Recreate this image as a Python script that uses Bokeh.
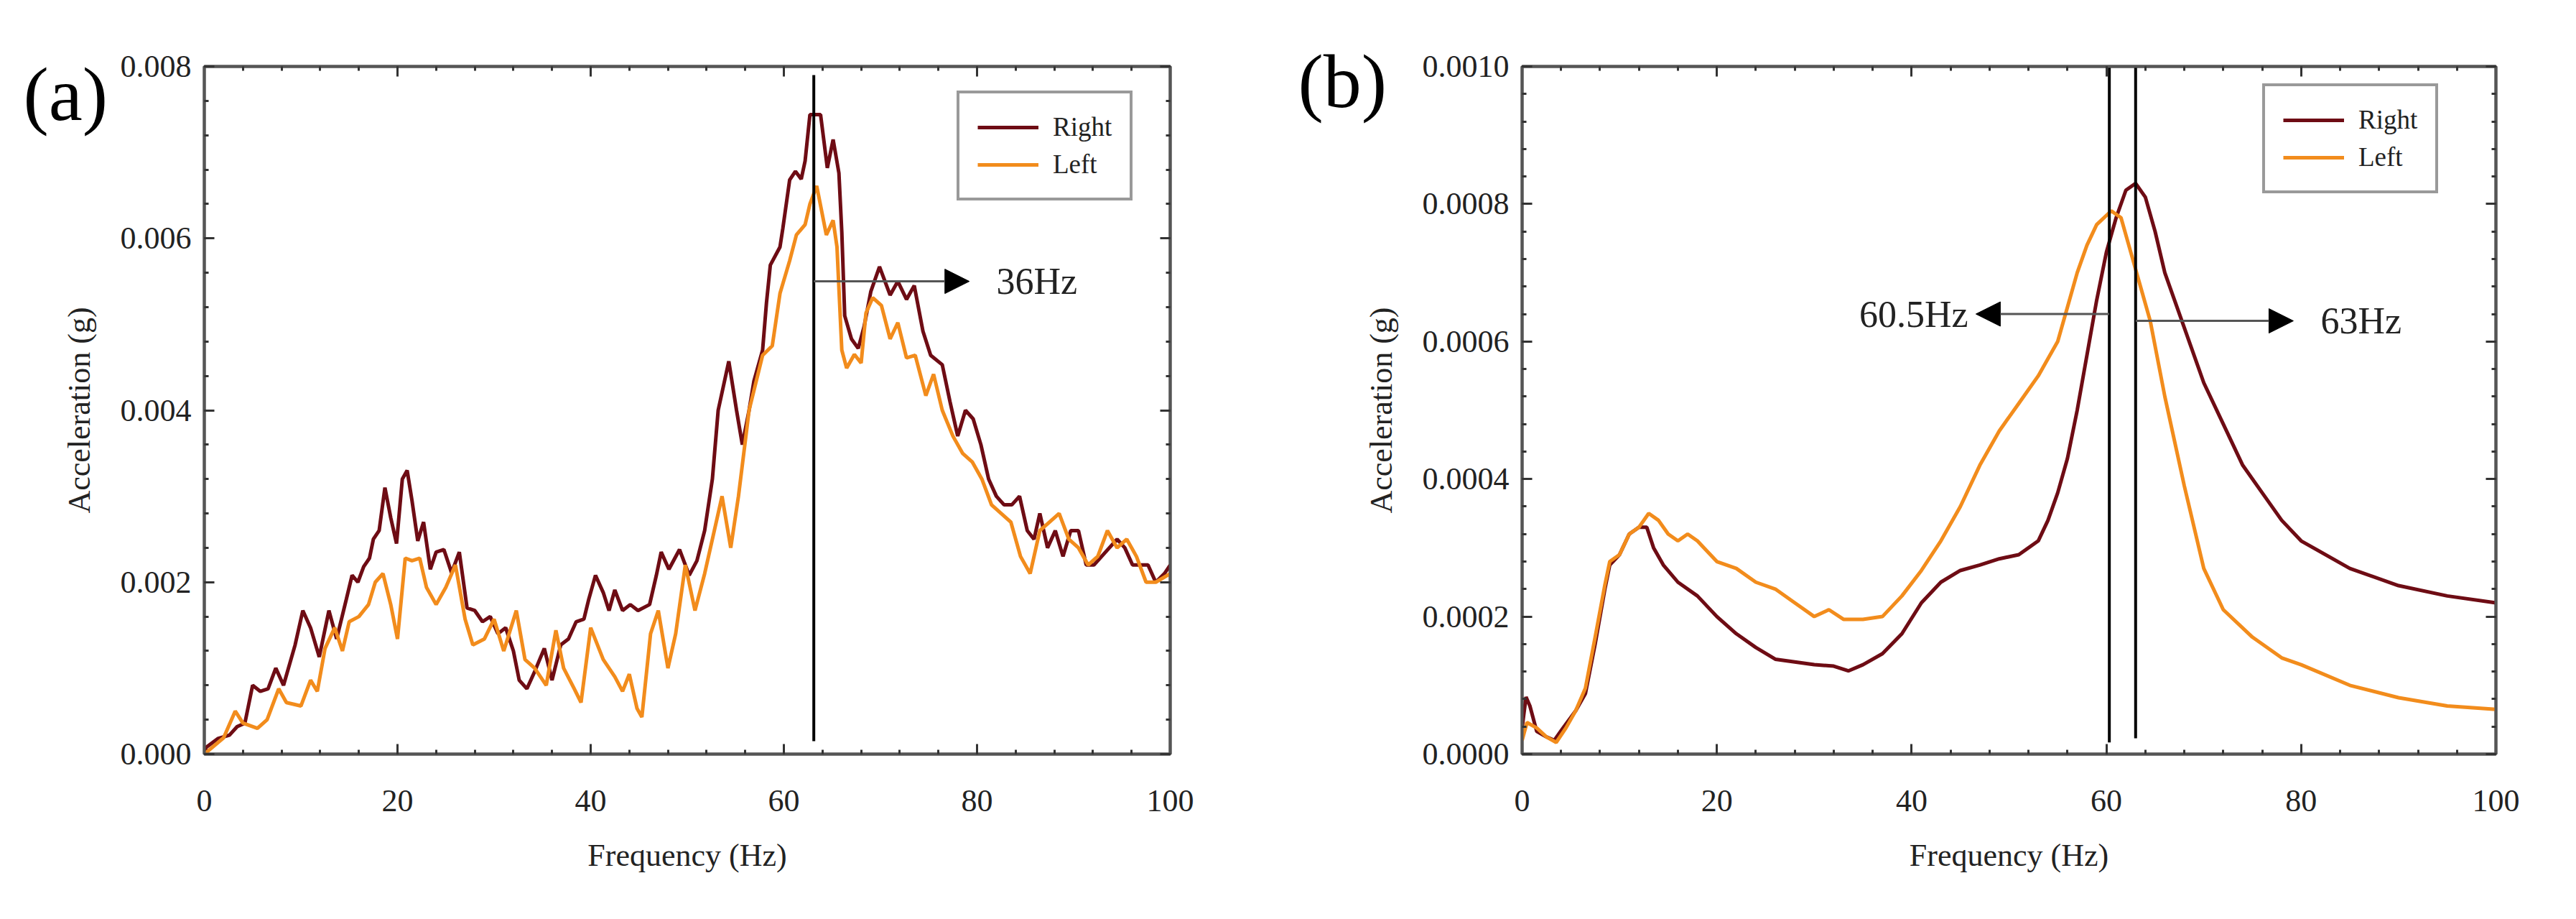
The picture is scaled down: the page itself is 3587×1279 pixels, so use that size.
from bokeh.embed import file_html
from bokeh.layouts import row
from bokeh.models import (Arrow, FixedTicker, Label, LinearAxis, NormalHead,
                          NumeralTickFormatter, Range1d)
from bokeh.plotting import figure
from bokeh.resources import INLINE

FONT = "Liberation Serif"
RIGHT_COLOR = "#6E0C14"
LEFT_COLOR = "#F28C1C"
FRAME_COLOR = "#555555"
TEXT_COLOR = "#222222"

# ---------- panel (a): acceleration spectrum, noisy ----------
a_right_hz = [0, 0.2, 1.4, 2.6, 3.4, 4.2, 5, 5.8, 6.6, 7.4,
              8.2, 9.4, 10.2, 11, 11.9, 12.9, 13.7, 14.7, 15.3, 15.9,
              16.5, 17.1, 17.5, 18.1, 18.7, 19.3, 19.9, 20.5, 21, 21.5,
              22.1, 22.7, 23.4, 24, 24.8, 25.6, 26.4, 27.2, 28, 28.8,
              29.6, 30.4, 31.2, 32, 32.6, 33.4, 34.2, 35.2, 36, 36.9,
              37.7, 38.5, 39.3, 39.8, 40.5, 41.3, 41.9, 42.5, 43.3, 44.1,
              44.9, 46.1, 46.8, 47.3, 48.1, 49.2, 50.2, 51, 51.8, 52.6,
              53.2, 54.3, 55.1, 55.7, 56.4, 56.9, 57.8, 58.2, 58.6, 59.6,
              59.9, 60.6, 61.2, 61.8, 62.2, 62.7, 63.8, 64.5, 65.1, 65.7,
              66.0, 66.3, 67.0, 67.7, 68.3, 69.0, 69.9, 71.0, 71.8, 72.7,
              73.5, 74.4, 75.2, 76.4,
              77.2, 78, 78.8, 79.6, 80.4, 81.2, 82,
              82.8, 83.6, 84.4, 85.2, 85.9, 86.5, 87.3, 88.1, 88.9, 89.7,
              90.5, 91.3, 92.1, 92.9, 93.7, 94.5, 95.3, 96.1, 96.9, 97.7,
              98.5, 99.4, 100]
a_right_g = [0, 0.00008, 0.00018, 0.00022, 0.00032, 0.00036, 0.0008, 0.00073, 0.00076, 0.001,
             0.0008, 0.00127, 0.00167, 0.00147, 0.00113, 0.00167, 0.00134, 0.0018, 0.00208, 0.002,
             0.00218, 0.00228, 0.0025, 0.0026, 0.0031, 0.00275, 0.00245, 0.0032, 0.0033, 0.00295,
             0.00248, 0.0027, 0.00215, 0.00235, 0.00238, 0.00211, 0.00235, 0.0017, 0.00167, 0.00154,
             0.0016, 0.0014, 0.00147, 0.0012, 0.00086, 0.00076, 0.00096, 0.00123, 0.00086, 0.00127,
             0.00134, 0.00154, 0.00157, 0.0018, 0.00208, 0.00188, 0.00167, 0.00191, 0.00167, 0.00174,
             0.00167, 0.00174, 0.00208, 0.00235, 0.00215, 0.00238, 0.00208, 0.00225, 0.0026, 0.0032,
             0.0040, 0.00457, 0.0040, 0.0036, 0.0040, 0.00434, 0.0047, 0.00525, 0.00569, 0.0059,
             0.00612, 0.00668, 0.00678, 0.00669, 0.0069, 0.00744, 0.00744, 0.00682, 0.00715, 0.00676,
             0.00607, 0.0051, 0.00483, 0.00472, 0.00497, 0.00538, 0.00567, 0.00534, 0.0055, 0.00529,
             0.00545, 0.00492, 0.00464, 0.00453,
             0.0041, 0.0037, 0.004, 0.0039, 0.0036, 0.0032, 0.003,
             0.0029, 0.0029, 0.003, 0.0026, 0.0025, 0.0028, 0.0024, 0.0026, 0.0023, 0.0026,
             0.0026, 0.0022, 0.0022, 0.0023, 0.0024, 0.0025, 0.0024, 0.0022, 0.0022, 0.0022,
             0.002, 0.0021, 0.0022]

a_left_hz = [0, 2, 3.2, 4, 5.5, 6.5, 7.7, 8.5, 10, 11,
             11.7, 12.5, 13.5, 14.3, 15, 16, 17, 17.7, 18.5, 19.3,
             20, 20.8, 21.5, 22.3, 23, 24, 25, 26, 27, 27.8,
             29, 30, 31, 32.3, 33.2, 34.2, 35.4, 36.4, 37.2, 38.3,
             39, 40, 41.3, 42.5, 43.3, 44, 44.8, 45.3, 46.2, 47,
             48, 48.8, 49.8, 50.8, 51.8, 52.8, 53.6, 54.5, 55.3, 56.4,
             57.8, 58.8, 59.6, 60.6, 61.3, 62.2, 62.7, 63.4, 64.4, 65.1,
             65.5, 66.0, 66.5, 67.3, 68.0, 68.5, 69.2, 70.1, 71.0, 71.8,
             72.7, 73.6, 74.7, 75.5, 76.4,
             77.5, 78.5, 79.5, 80.5, 81.5, 82.5, 83.5, 84.5,
             85.5, 86.5, 87.5, 88.5, 89.5, 90.5, 91.5, 92.5, 93.5, 94.5,
             95.5, 96.5, 97.5, 98.5, 100]
a_left_g = [0, 0.00019, 0.0005, 0.00036, 0.0003, 0.0004, 0.00076, 0.0006, 0.00056, 0.00086,
            0.00073, 0.00123, 0.00147, 0.0012, 0.00154, 0.0016, 0.00174, 0.002, 0.0021, 0.00174,
            0.00134, 0.00228, 0.00225, 0.00228, 0.00194, 0.00174, 0.00194, 0.0022, 0.00157, 0.00127,
            0.00134, 0.00157, 0.0012, 0.00167, 0.0011, 0.001, 0.0008, 0.00144, 0.001, 0.00076,
            0.0006, 0.00147, 0.0011, 0.0009, 0.00073, 0.00093, 0.00053, 0.00043, 0.0014, 0.00167,
            0.001, 0.0014, 0.0022, 0.00167, 0.0021, 0.0026, 0.003, 0.0024, 0.003, 0.0040,
            0.00464, 0.00475, 0.00536, 0.00574, 0.00604, 0.00616, 0.0064, 0.00661, 0.00604, 0.00621,
            0.0059, 0.0047, 0.00449, 0.00465, 0.00455, 0.00513, 0.00531, 0.00522, 0.00483, 0.00502,
            0.00461, 0.00464, 0.00417, 0.00442, 0.0040,
            0.0037, 0.0035, 0.0034, 0.0032, 0.0029, 0.0028, 0.0027, 0.0023,
            0.0021, 0.0026, 0.0027, 0.0028, 0.0025, 0.0024, 0.0022, 0.0023, 0.0026, 0.0024,
            0.0025, 0.0023, 0.002, 0.002, 0.0021]

# ---------- panel (b): smooth spectrum ----------
b_right_hz = [0, 0.4, 0.8, 1.5, 2.5, 3.3, 4.2, 5.5, 6.5, 7.5,
              8.5, 9, 10, 11, 12, 12.8, 13.5, 14.5, 16, 18,
              20, 22, 24, 26, 28, 30, 32, 33.5, 35, 37,
              39, 41, 43, 45, 47, 49, 51, 53, 54, 55,
              56, 57, 58, 59, 60, 61, 62, 63, 64, 65,
              66, 67, 68, 70, 72, 74, 76, 78, 80, 85,
              90, 95, 100]
b_right_g = [0.000038, 0.000083, 0.00007, 0.000033, 0.000025, 0.00002, 0.000038, 0.000063, 0.000088, 0.00016,
             0.00024, 0.000275, 0.00029, 0.00032, 0.00033, 0.00033, 0.0003, 0.000275, 0.00025, 0.00023,
             0.0002, 0.000175, 0.000155, 0.000138, 0.000134, 0.00013, 0.000128, 0.000121, 0.00013, 0.000146,
             0.000175, 0.00022, 0.00025, 0.000267, 0.000275, 0.000284, 0.00029, 0.00031, 0.00034, 0.00038,
             0.00043, 0.0005, 0.00058, 0.00066, 0.00073, 0.00078, 0.00082, 0.00083, 0.00081, 0.00076,
             0.0007, 0.00066, 0.00062, 0.00054, 0.00048, 0.00042, 0.00038, 0.00034, 0.00031, 0.00027,
             0.000245, 0.00023, 0.00022]

b_left_hz = [0, 0.5, 1.5, 2.5, 3.5, 4.5, 5.5, 6.5, 7.5, 8.5,
             9, 10, 11, 12, 13, 14, 15, 16, 17, 18,
             20, 22, 24, 26, 28, 30, 31.5, 33, 35, 37,
             39, 41, 43, 45, 47, 49, 51, 53, 55, 56,
             57, 58, 59, 60.5, 61.5, 62.5, 63.5, 64.5, 66, 68,
             70, 72, 75, 78, 80, 85, 90, 95, 100]
b_left_g = [0.00002, 0.000046, 0.000038, 0.000025, 0.000017, 0.000038, 0.000063, 0.000096, 0.00017, 0.000246,
            0.00028, 0.00029, 0.00032, 0.00033, 0.00035, 0.00034, 0.00032, 0.00031, 0.00032, 0.00031,
            0.00028, 0.00027, 0.00025, 0.00024, 0.00022, 0.0002, 0.00021, 0.000196, 0.000196, 0.0002,
            0.00023, 0.000267, 0.00031, 0.00036, 0.00042, 0.00047, 0.00051, 0.00055, 0.0006, 0.00065,
            0.0007, 0.00074, 0.00077, 0.00079, 0.00078, 0.00073, 0.00068, 0.00063, 0.00052, 0.00039,
            0.00027, 0.00021, 0.00017, 0.00014, 0.00013, 0.0001, 0.000082, 0.00007, 0.000065]

# peak markers: frequency, line bottom/top, arrow end and level, annotation text
a_mark_hz = [63.1]
a_mark_bottom = [0.00015]
a_mark_top = [0.0079]
a_arrow_end = [79.2]
a_arrow_level = [0.0055]
a_arrow_text = ["36Hz"]

b_mark_hz = [60.3, 63.0]
b_mark_bottom = [0.000017, 0.000023]
b_mark_top = [0.001, 0.001]
b_arrow_end = [46.6, 79.2]
b_arrow_level = [0.00064, 0.00063]
b_arrow_text = ["60.5Hz", "63Hz"]

x_major = [0, 20, 40, 60, 80, 100]
x_minor = list(range(0, 101, 4))
a_y_major = [0, 0.002, 0.004, 0.006, 0.008]
a_y_minor = [i * 0.0004 for i in range(21)]
b_y_major = [0, 0.0002, 0.0004, 0.0006, 0.0008, 0.001]
b_y_minor = [i * 0.00004 for i in range(26)]


def style_axis(ax, ticker, fmt=None, label_standoff=18, title_standoff=30):
    ax.ticker = ticker
    ax.axis_line_color = FRAME_COLOR
    ax.axis_line_width = 4
    ax.major_tick_in = 14
    ax.major_tick_out = 0
    ax.minor_tick_in = 6
    ax.minor_tick_out = 0
    ax.major_tick_line_color = "#333333"
    ax.major_tick_line_width = 3
    ax.minor_tick_line_color = "#333333"
    ax.minor_tick_line_width = 3
    if fmt is not None:
        ax.formatter = fmt
        ax.major_label_text_font = FONT
        ax.major_label_text_font_size = "44px"
        ax.major_label_text_color = TEXT_COLOR
        ax.major_label_standoff = label_standoff
        ax.axis_label_text_font = FONT
        ax.axis_label_text_font_size = "44px"
        ax.axis_label_text_font_style = "normal"
        ax.axis_label_text_color = TEXT_COLOR
        ax.axis_label_standoff = title_standoff
    else:
        ax.major_label_text_font_size = "0px"
        ax.major_label_text_color = None
        ax.major_label_standoff = 0


def make_panel(width, borders, y_max, y_major, y_minor, y_fmt):
    left, right, top, bottom = borders
    p = figure(width=width, height=1263, x_range=Range1d(0, 100), y_range=Range1d(0, y_max),
               output_backend="svg", toolbar_location=None,
               min_border_left=left, min_border_right=right,
               min_border_top=top, min_border_bottom=bottom)
    p.grid.visible = False
    p.outline_line_color = FRAME_COLOR
    p.outline_line_width = 4
    p.background_fill_color = "white"
    p.border_fill_color = "white"

    xt = FixedTicker(ticks=x_major, minor_ticks=x_minor)
    yt = FixedTicker(ticks=y_major, minor_ticks=y_minor)
    style_axis(p.below[0], xt, NumeralTickFormatter(format="0"), 50, 34)
    style_axis(p.left[0], yt, NumeralTickFormatter(format=y_fmt), 18, 30)
    p.below[0].axis_label = "Frequency (Hz)"
    p.left[0].axis_label = "Acceleration (g)"
    top_ax = LinearAxis()
    right_ax = LinearAxis()
    style_axis(top_ax, xt)
    style_axis(right_ax, yt)
    p.add_layout(top_ax, "above")
    p.add_layout(right_ax, "right")
    return p


def style_legend(p, loc):
    lg = p.legend[0]
    lg.location = loc
    lg.label_text_font = FONT
    lg.label_text_font_size = "37px"
    lg.label_text_color = TEXT_COLOR
    lg.label_height = 40
    lg.glyph_height = 40
    lg.glyph_width = 85
    lg.label_standoff = 20
    lg.spacing = 9
    lg.padding = 25
    lg.margin = 0
    lg.border_line_color = "#333333"
    lg.border_line_width = 4
    lg.background_fill_alpha = 1


def add_markers(p, xs, bottoms, tops, ends, levels, texts, head_size):
    p.segment(x0=xs, y0=bottoms, x1=xs, y1=tops, line_color="black", line_width=4)
    for x, end, lvl, txt in zip(xs, ends, levels, texts):
        p.add_layout(Arrow(end=NormalHead(size=head_size, fill_color="black", line_color="black"),
                           x_start=x, y_start=lvl, x_end=end, y_end=lvl,
                           line_color="#555555", line_width=3))
        to_right = end > x
        p.add_layout(Label(x=end + (2.8 if to_right else -0.8), y=lvl, text=txt,
                           text_font=FONT, text_font_size="52px", text_color=TEXT_COLOR,
                           text_align="left" if to_right else "right",
                           text_baseline="middle"))


def add_panel_tag(p, text, cx, cy, side):
    # panel letter sits outside the frame; a side-panel label is not clipped to it.
    # side is picked where the border has room so the frame does not move.
    p.add_layout(Label(x=cx, y=cy, x_units="canvas", y_units="canvas", text=text,
                       text_font=FONT, text_font_size="106px", text_color="black",
                       text_baseline="alphabetic"), side)


# ---------- (a) ----------
pa = make_panel(1760, (284, 131, 92, 203), 0.008, a_y_major, a_y_minor, "0.000")
pa.line(a_right_hz, a_right_g, line_color=RIGHT_COLOR, line_width=5, legend_label="Right")
pa.line(a_left_hz, a_left_g, line_color=LEFT_COLOR, line_width=5, legend_label="Left")
add_markers(pa, a_mark_hz, a_mark_bottom, a_mark_top, a_arrow_end, a_arrow_level, a_arrow_text, 34)
style_legend(pa, (1048, 770))
add_panel_tag(pa, "(a)", 32, 131, "right")

# ---------- (b) ----------
pb = make_panel(1811, (359, 96, 70, 214), 0.001, b_y_major, b_y_minor, "0.0000")
pb.line(b_right_hz, b_right_g, line_color=RIGHT_COLOR, line_width=5, legend_label="Right")
pb.line(b_left_hz, b_left_g, line_color=LEFT_COLOR, line_width=5, legend_label="Left")
add_markers(pb, b_mark_hz, b_mark_bottom, b_mark_top, b_arrow_end, b_arrow_level, b_arrow_text, 34)
style_legend(pb, (1031, 780))
add_panel_tag(pb, "(b)", 47, 113, "left")

p = row(pa, pb)
open("out.html", "w").write(file_html(p, INLINE))
